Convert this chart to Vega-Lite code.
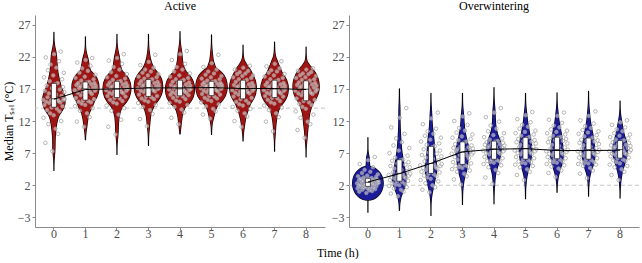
{
"$schema":"https://vega.github.io/schema/vega-lite/v6.json",
"padding":{"left":2,"top":0,"right":0,"bottom":0},
"spacing":5,
"title":{"text":"Time (h)","orient":"bottom","anchor":"middle","dx":17,"offset":9,"fontSize":12,"fontWeight":"normal","font":"Liberation Serif","color":"black"},
"datasets":{
"ref":[{"s":"A","ref":14},{"s":"O","ref":2}],
"fit":[{"s":"A","t":0,"f":15.4},{"s":"A","t":1,"f":16.9},{"s":"A","t":2,"f":17.0},{"s":"A","t":3,"f":17.15},{"s":"A","t":4,"f":17.15},{"s":"A","t":5,"f":17.2},{"s":"A","t":6,"f":17.05},{"s":"A","t":7,"f":17.05},{"s":"A","t":8,"f":16.9},
{"s":"O","t":0,"f":2.5},{"s":"O","t":1,"f":3.8},{"s":"O","t":2,"f":5.4},{"s":"O","t":3,"f":7.2},{"s":"O","t":4,"f":7.6},{"s":"O","t":5,"f":7.7},{"s":"O","t":6,"f":7.4},{"s":"O","t":7,"f":7.4},{"s":"O","t":8,"f":7.45}],
"pts":[
{"s":"A","t":0,"v":7.3},{"s":"A","t":0,"v":8.6},{"s":"A","t":0,"v":10.0},{"s":"A","t":0,"v":10.8},{"s":"A","t":0,"v":11.5},{"s":"A","t":0,"v":12.0},{"s":"A","t":0,"v":12.5},{"s":"A","t":0,"v":12.9},{"s":"A","t":0,"v":13.2},{"s":"A","t":0,"v":13.5},
{"s":"A","t":0,"v":13.7},{"s":"A","t":0,"v":13.9},{"s":"A","t":0,"v":14.1},{"s":"A","t":0,"v":14.3},{"s":"A","t":0,"v":14.5},{"s":"A","t":0,"v":14.6},{"s":"A","t":0,"v":14.8},{"s":"A","t":0,"v":14.9},{"s":"A","t":0,"v":15.0},{"s":"A","t":0,"v":15.1},
{"s":"A","t":0,"v":15.2},{"s":"A","t":0,"v":15.3},{"s":"A","t":0,"v":15.3},{"s":"A","t":0,"v":15.4},{"s":"A","t":0,"v":15.4},{"s":"A","t":0,"v":15.5},{"s":"A","t":0,"v":15.7},{"s":"A","t":0,"v":15.9},{"s":"A","t":0,"v":16.1},{"s":"A","t":0,"v":16.3},
{"s":"A","t":0,"v":16.5},{"s":"A","t":0,"v":16.7},{"s":"A","t":0,"v":16.9},{"s":"A","t":0,"v":17.1},{"s":"A","t":0,"v":17.3},{"s":"A","t":0,"v":17.5},{"s":"A","t":0,"v":17.7},{"s":"A","t":0,"v":17.9},{"s":"A","t":0,"v":18.2},{"s":"A","t":0,"v":18.5},
{"s":"A","t":0,"v":18.8},{"s":"A","t":0,"v":19.1},{"s":"A","t":0,"v":19.5},{"s":"A","t":0,"v":19.9},{"s":"A","t":0,"v":20.3},{"s":"A","t":0,"v":20.8},{"s":"A","t":0,"v":21.3},{"s":"A","t":0,"v":21.9},{"s":"A","t":0,"v":22.4},{"s":"A","t":0,"v":22.8},
{"s":"A","t":1,"v":11.1},{"s":"A","t":1,"v":11.9},{"s":"A","t":1,"v":12.6},{"s":"A","t":1,"v":13.2},{"s":"A","t":1,"v":13.6},{"s":"A","t":1,"v":14.0},{"s":"A","t":1,"v":14.3},{"s":"A","t":1,"v":14.5},{"s":"A","t":1,"v":14.7},{"s":"A","t":1,"v":14.9},
{"s":"A","t":1,"v":15.0},{"s":"A","t":1,"v":15.1},{"s":"A","t":1,"v":15.2},{"s":"A","t":1,"v":15.4},{"s":"A","t":1,"v":15.6},{"s":"A","t":1,"v":15.8},{"s":"A","t":1,"v":16.0},{"s":"A","t":1,"v":16.2},{"s":"A","t":1,"v":16.4},{"s":"A","t":1,"v":16.5},
{"s":"A","t":1,"v":16.6},{"s":"A","t":1,"v":16.7},{"s":"A","t":1,"v":16.8},{"s":"A","t":1,"v":16.9},{"s":"A","t":1,"v":17.0},{"s":"A","t":1,"v":17.0},{"s":"A","t":1,"v":17.1},{"s":"A","t":1,"v":17.2},{"s":"A","t":1,"v":17.3},{"s":"A","t":1,"v":17.4},
{"s":"A","t":1,"v":17.5},{"s":"A","t":1,"v":17.6},{"s":"A","t":1,"v":17.7},{"s":"A","t":1,"v":17.8},{"s":"A","t":1,"v":17.9},{"s":"A","t":1,"v":17.9},{"s":"A","t":1,"v":18.0},{"s":"A","t":1,"v":18.1},{"s":"A","t":1,"v":18.3},{"s":"A","t":1,"v":18.5},
{"s":"A","t":1,"v":18.7},{"s":"A","t":1,"v":18.9},{"s":"A","t":1,"v":19.2},{"s":"A","t":1,"v":19.5},{"s":"A","t":1,"v":19.8},{"s":"A","t":1,"v":20.2},{"s":"A","t":1,"v":20.6},{"s":"A","t":1,"v":21.1},{"s":"A","t":1,"v":21.5},{"s":"A","t":1,"v":21.8},
{"s":"A","t":2,"v":9.9},{"s":"A","t":2,"v":11.1},{"s":"A","t":2,"v":12.2},{"s":"A","t":2,"v":13.0},{"s":"A","t":2,"v":13.6},{"s":"A","t":2,"v":14.0},{"s":"A","t":2,"v":14.4},{"s":"A","t":2,"v":14.7},{"s":"A","t":2,"v":14.9},{"s":"A","t":2,"v":15.1},
{"s":"A","t":2,"v":15.3},{"s":"A","t":2,"v":15.5},{"s":"A","t":2,"v":15.6},{"s":"A","t":2,"v":15.8},{"s":"A","t":2,"v":15.9},{"s":"A","t":2,"v":16.1},{"s":"A","t":2,"v":16.2},{"s":"A","t":2,"v":16.3},{"s":"A","t":2,"v":16.4},{"s":"A","t":2,"v":16.5},
{"s":"A","t":2,"v":16.6},{"s":"A","t":2,"v":16.7},{"s":"A","t":2,"v":16.8},{"s":"A","t":2,"v":16.9},{"s":"A","t":2,"v":17.0},{"s":"A","t":2,"v":17.0},{"s":"A","t":2,"v":17.1},{"s":"A","t":2,"v":17.2},{"s":"A","t":2,"v":17.3},{"s":"A","t":2,"v":17.4},
{"s":"A","t":2,"v":17.5},{"s":"A","t":2,"v":17.6},{"s":"A","t":2,"v":17.7},{"s":"A","t":2,"v":17.8},{"s":"A","t":2,"v":17.9},{"s":"A","t":2,"v":18.0},{"s":"A","t":2,"v":18.1},{"s":"A","t":2,"v":18.2},{"s":"A","t":2,"v":18.4},{"s":"A","t":2,"v":18.6},
{"s":"A","t":2,"v":18.8},{"s":"A","t":2,"v":19.0},{"s":"A","t":2,"v":19.3},{"s":"A","t":2,"v":19.6},{"s":"A","t":2,"v":20.0},{"s":"A","t":2,"v":20.4},{"s":"A","t":2,"v":20.9},{"s":"A","t":2,"v":21.4},{"s":"A","t":2,"v":21.8},{"s":"A","t":2,"v":22.4},
{"s":"A","t":3,"v":11.2},{"s":"A","t":3,"v":12.3},{"s":"A","t":3,"v":13.1},{"s":"A","t":3,"v":13.7},{"s":"A","t":3,"v":14.2},{"s":"A","t":3,"v":14.5},{"s":"A","t":3,"v":14.8},{"s":"A","t":3,"v":15.0},{"s":"A","t":3,"v":15.2},{"s":"A","t":3,"v":15.4},
{"s":"A","t":3,"v":15.5},{"s":"A","t":3,"v":15.7},{"s":"A","t":3,"v":15.8},{"s":"A","t":3,"v":15.9},{"s":"A","t":3,"v":16.1},{"s":"A","t":3,"v":16.3},{"s":"A","t":3,"v":16.5},{"s":"A","t":3,"v":16.6},{"s":"A","t":3,"v":16.7},{"s":"A","t":3,"v":16.8},
{"s":"A","t":3,"v":16.9},{"s":"A","t":3,"v":17.0},{"s":"A","t":3,"v":17.1},{"s":"A","t":3,"v":17.1},{"s":"A","t":3,"v":17.2},{"s":"A","t":3,"v":17.2},{"s":"A","t":3,"v":17.3},{"s":"A","t":3,"v":17.4},{"s":"A","t":3,"v":17.5},{"s":"A","t":3,"v":17.6},
{"s":"A","t":3,"v":17.7},{"s":"A","t":3,"v":17.8},{"s":"A","t":3,"v":17.9},{"s":"A","t":3,"v":18.0},{"s":"A","t":3,"v":18.1},{"s":"A","t":3,"v":18.2},{"s":"A","t":3,"v":18.3},{"s":"A","t":3,"v":18.5},{"s":"A","t":3,"v":18.6},{"s":"A","t":3,"v":18.8},
{"s":"A","t":3,"v":18.9},{"s":"A","t":3,"v":19.1},{"s":"A","t":3,"v":19.3},{"s":"A","t":3,"v":19.5},{"s":"A","t":3,"v":19.7},{"s":"A","t":3,"v":20.0},{"s":"A","t":3,"v":20.3},{"s":"A","t":3,"v":20.7},{"s":"A","t":3,"v":21.2},{"s":"A","t":3,"v":22.3},
{"s":"A","t":4,"v":11.5},{"s":"A","t":4,"v":12.5},{"s":"A","t":4,"v":13.3},{"s":"A","t":4,"v":13.8},{"s":"A","t":4,"v":14.2},{"s":"A","t":4,"v":14.5},{"s":"A","t":4,"v":14.8},{"s":"A","t":4,"v":15.0},{"s":"A","t":4,"v":15.2},{"s":"A","t":4,"v":15.4},
{"s":"A","t":4,"v":15.6},{"s":"A","t":4,"v":15.8},{"s":"A","t":4,"v":15.9},{"s":"A","t":4,"v":16.0},{"s":"A","t":4,"v":16.1},{"s":"A","t":4,"v":16.2},{"s":"A","t":4,"v":16.3},{"s":"A","t":4,"v":16.4},{"s":"A","t":4,"v":16.5},{"s":"A","t":4,"v":16.6},
{"s":"A","t":4,"v":16.7},{"s":"A","t":4,"v":16.8},{"s":"A","t":4,"v":16.9},{"s":"A","t":4,"v":16.9},{"s":"A","t":4,"v":17.0},{"s":"A","t":4,"v":17.0},{"s":"A","t":4,"v":17.1},{"s":"A","t":4,"v":17.2},{"s":"A","t":4,"v":17.3},{"s":"A","t":4,"v":17.4},
{"s":"A","t":4,"v":17.5},{"s":"A","t":4,"v":17.6},{"s":"A","t":4,"v":17.7},{"s":"A","t":4,"v":17.9},{"s":"A","t":4,"v":18.0},{"s":"A","t":4,"v":18.1},{"s":"A","t":4,"v":18.2},{"s":"A","t":4,"v":18.4},{"s":"A","t":4,"v":18.5},{"s":"A","t":4,"v":18.7},
{"s":"A","t":4,"v":18.9},{"s":"A","t":4,"v":19.1},{"s":"A","t":4,"v":19.4},{"s":"A","t":4,"v":19.7},{"s":"A","t":4,"v":20.0},{"s":"A","t":4,"v":20.4},{"s":"A","t":4,"v":20.9},{"s":"A","t":4,"v":21.5},{"s":"A","t":4,"v":22.4},{"s":"A","t":4,"v":22.9},
{"s":"A","t":5,"v":12.4},{"s":"A","t":5,"v":13.0},{"s":"A","t":5,"v":13.5},{"s":"A","t":5,"v":13.9},{"s":"A","t":5,"v":14.3},{"s":"A","t":5,"v":14.6},{"s":"A","t":5,"v":14.9},{"s":"A","t":5,"v":15.1},{"s":"A","t":5,"v":15.3},{"s":"A","t":5,"v":15.5},
{"s":"A","t":5,"v":15.6},{"s":"A","t":5,"v":15.8},{"s":"A","t":5,"v":15.9},{"s":"A","t":5,"v":16.1},{"s":"A","t":5,"v":16.2},{"s":"A","t":5,"v":16.4},{"s":"A","t":5,"v":16.5},{"s":"A","t":5,"v":16.6},{"s":"A","t":5,"v":16.7},{"s":"A","t":5,"v":16.8},
{"s":"A","t":5,"v":16.9},{"s":"A","t":5,"v":17.0},{"s":"A","t":5,"v":17.1},{"s":"A","t":5,"v":17.1},{"s":"A","t":5,"v":17.2},{"s":"A","t":5,"v":17.2},{"s":"A","t":5,"v":17.3},{"s":"A","t":5,"v":17.4},{"s":"A","t":5,"v":17.5},{"s":"A","t":5,"v":17.5},
{"s":"A","t":5,"v":17.6},{"s":"A","t":5,"v":17.7},{"s":"A","t":5,"v":17.8},{"s":"A","t":5,"v":17.8},{"s":"A","t":5,"v":17.9},{"s":"A","t":5,"v":18.0},{"s":"A","t":5,"v":18.1},{"s":"A","t":5,"v":18.2},{"s":"A","t":5,"v":18.3},{"s":"A","t":5,"v":18.5},
{"s":"A","t":5,"v":18.6},{"s":"A","t":5,"v":18.8},{"s":"A","t":5,"v":19.0},{"s":"A","t":5,"v":19.2},{"s":"A","t":5,"v":19.4},{"s":"A","t":5,"v":19.7},{"s":"A","t":5,"v":20.0},{"s":"A","t":5,"v":20.4},{"s":"A","t":5,"v":21.0},{"s":"A","t":5,"v":22.3},
{"s":"A","t":6,"v":11.1},{"s":"A","t":6,"v":12.0},{"s":"A","t":6,"v":12.7},{"s":"A","t":6,"v":13.2},{"s":"A","t":6,"v":13.6},{"s":"A","t":6,"v":13.9},{"s":"A","t":6,"v":14.2},{"s":"A","t":6,"v":14.4},{"s":"A","t":6,"v":14.6},{"s":"A","t":6,"v":14.8},
{"s":"A","t":6,"v":15.0},{"s":"A","t":6,"v":15.2},{"s":"A","t":6,"v":15.4},{"s":"A","t":6,"v":15.6},{"s":"A","t":6,"v":15.8},{"s":"A","t":6,"v":16.0},{"s":"A","t":6,"v":16.1},{"s":"A","t":6,"v":16.3},{"s":"A","t":6,"v":16.4},{"s":"A","t":6,"v":16.5},
{"s":"A","t":6,"v":16.6},{"s":"A","t":6,"v":16.7},{"s":"A","t":6,"v":16.8},{"s":"A","t":6,"v":16.9},{"s":"A","t":6,"v":17.0},{"s":"A","t":6,"v":17.0},{"s":"A","t":6,"v":17.1},{"s":"A","t":6,"v":17.2},{"s":"A","t":6,"v":17.3},{"s":"A","t":6,"v":17.4},
{"s":"A","t":6,"v":17.5},{"s":"A","t":6,"v":17.6},{"s":"A","t":6,"v":17.7},{"s":"A","t":6,"v":17.8},{"s":"A","t":6,"v":17.9},{"s":"A","t":6,"v":18.1},{"s":"A","t":6,"v":18.2},{"s":"A","t":6,"v":18.4},{"s":"A","t":6,"v":18.5},{"s":"A","t":6,"v":18.7},
{"s":"A","t":6,"v":18.8},{"s":"A","t":6,"v":19.0},{"s":"A","t":6,"v":19.1},{"s":"A","t":6,"v":19.3},{"s":"A","t":6,"v":19.4},{"s":"A","t":6,"v":19.6},{"s":"A","t":6,"v":19.8},{"s":"A","t":6,"v":20.0},{"s":"A","t":6,"v":20.3},{"s":"A","t":6,"v":20.6},
{"s":"A","t":7,"v":10.4},{"s":"A","t":7,"v":11.9},{"s":"A","t":7,"v":12.6},{"s":"A","t":7,"v":13.2},{"s":"A","t":7,"v":13.7},{"s":"A","t":7,"v":14.1},{"s":"A","t":7,"v":14.4},{"s":"A","t":7,"v":14.7},{"s":"A","t":7,"v":14.9},{"s":"A","t":7,"v":15.1},
{"s":"A","t":7,"v":15.3},{"s":"A","t":7,"v":15.5},{"s":"A","t":7,"v":15.6},{"s":"A","t":7,"v":15.8},{"s":"A","t":7,"v":15.9},{"s":"A","t":7,"v":16.1},{"s":"A","t":7,"v":16.2},{"s":"A","t":7,"v":16.3},{"s":"A","t":7,"v":16.4},{"s":"A","t":7,"v":16.5},
{"s":"A","t":7,"v":16.6},{"s":"A","t":7,"v":16.7},{"s":"A","t":7,"v":16.8},{"s":"A","t":7,"v":16.9},{"s":"A","t":7,"v":17.0},{"s":"A","t":7,"v":17.0},{"s":"A","t":7,"v":17.1},{"s":"A","t":7,"v":17.2},{"s":"A","t":7,"v":17.3},{"s":"A","t":7,"v":17.4},
{"s":"A","t":7,"v":17.5},{"s":"A","t":7,"v":17.6},{"s":"A","t":7,"v":17.7},{"s":"A","t":7,"v":17.8},{"s":"A","t":7,"v":17.9},{"s":"A","t":7,"v":18.0},{"s":"A","t":7,"v":18.2},{"s":"A","t":7,"v":18.4},{"s":"A","t":7,"v":18.5},{"s":"A","t":7,"v":18.7},
{"s":"A","t":7,"v":18.9},{"s":"A","t":7,"v":19.1},{"s":"A","t":7,"v":19.3},{"s":"A","t":7,"v":19.5},{"s":"A","t":7,"v":19.7},{"s":"A","t":7,"v":19.9},{"s":"A","t":7,"v":20.2},{"s":"A","t":7,"v":20.5},{"s":"A","t":7,"v":20.9},{"s":"A","t":7,"v":21.3},
{"s":"A","t":8,"v":9.4},{"s":"A","t":8,"v":10.6},{"s":"A","t":8,"v":11.5},{"s":"A","t":8,"v":11.9},{"s":"A","t":8,"v":12.5},{"s":"A","t":8,"v":13.0},{"s":"A","t":8,"v":13.5},{"s":"A","t":8,"v":13.9},{"s":"A","t":8,"v":14.2},{"s":"A","t":8,"v":14.5},
{"s":"A","t":8,"v":14.7},{"s":"A","t":8,"v":14.9},{"s":"A","t":8,"v":15.1},{"s":"A","t":8,"v":15.3},{"s":"A","t":8,"v":15.5},{"s":"A","t":8,"v":15.8},{"s":"A","t":8,"v":16.0},{"s":"A","t":8,"v":16.2},{"s":"A","t":8,"v":16.3},{"s":"A","t":8,"v":16.4},
{"s":"A","t":8,"v":16.5},{"s":"A","t":8,"v":16.6},{"s":"A","t":8,"v":16.7},{"s":"A","t":8,"v":16.8},{"s":"A","t":8,"v":16.9},{"s":"A","t":8,"v":17.0},{"s":"A","t":8,"v":17.1},{"s":"A","t":8,"v":17.2},{"s":"A","t":8,"v":17.3},{"s":"A","t":8,"v":17.4},
{"s":"A","t":8,"v":17.5},{"s":"A","t":8,"v":17.6},{"s":"A","t":8,"v":17.7},{"s":"A","t":8,"v":17.8},{"s":"A","t":8,"v":17.9},{"s":"A","t":8,"v":18.0},{"s":"A","t":8,"v":18.1},{"s":"A","t":8,"v":18.3},{"s":"A","t":8,"v":18.4},{"s":"A","t":8,"v":18.5},
{"s":"A","t":8,"v":18.7},{"s":"A","t":8,"v":18.8},{"s":"A","t":8,"v":19.0},{"s":"A","t":8,"v":19.1},{"s":"A","t":8,"v":19.3},{"s":"A","t":8,"v":19.4},{"s":"A","t":8,"v":19.6},{"s":"A","t":8,"v":19.8},{"s":"A","t":8,"v":20.0},{"s":"A","t":8,"v":20.2},
{"s":"O","t":0,"v":0.8},{"s":"O","t":0,"v":1.0},{"s":"O","t":0,"v":1.1},{"s":"O","t":0,"v":1.2},{"s":"O","t":0,"v":1.3},{"s":"O","t":0,"v":1.4},{"s":"O","t":0,"v":1.5},{"s":"O","t":0,"v":1.5},{"s":"O","t":0,"v":1.6},{"s":"O","t":0,"v":1.6},
{"s":"O","t":0,"v":1.7},{"s":"O","t":0,"v":1.7},{"s":"O","t":0,"v":1.8},{"s":"O","t":0,"v":1.9},{"s":"O","t":0,"v":1.9},{"s":"O","t":0,"v":2.0},{"s":"O","t":0,"v":2.0},{"s":"O","t":0,"v":2.1},{"s":"O","t":0,"v":2.1},{"s":"O","t":0,"v":2.2},
{"s":"O","t":0,"v":2.2},{"s":"O","t":0,"v":2.3},{"s":"O","t":0,"v":2.3},{"s":"O","t":0,"v":2.4},{"s":"O","t":0,"v":2.4},{"s":"O","t":0,"v":2.5},{"s":"O","t":0,"v":2.5},{"s":"O","t":0,"v":2.6},{"s":"O","t":0,"v":2.6},{"s":"O","t":0,"v":2.7},
{"s":"O","t":0,"v":2.7},{"s":"O","t":0,"v":2.8},{"s":"O","t":0,"v":2.8},{"s":"O","t":0,"v":2.9},{"s":"O","t":0,"v":2.9},{"s":"O","t":0,"v":3.0},{"s":"O","t":0,"v":3.0},{"s":"O","t":0,"v":3.1},{"s":"O","t":0,"v":3.2},{"s":"O","t":0,"v":3.3},
{"s":"O","t":0,"v":3.4},{"s":"O","t":0,"v":3.5},{"s":"O","t":0,"v":3.7},{"s":"O","t":0,"v":3.9},{"s":"O","t":0,"v":4.1},{"s":"O","t":0,"v":4.4},{"s":"O","t":0,"v":4.8},{"s":"O","t":0,"v":5.3},{"s":"O","t":0,"v":5.9},{"s":"O","t":0,"v":6.4},
{"s":"O","t":1,"v":0.3},{"s":"O","t":1,"v":0.7},{"s":"O","t":1,"v":1.0},{"s":"O","t":1,"v":1.3},{"s":"O","t":1,"v":1.5},{"s":"O","t":1,"v":1.7},{"s":"O","t":1,"v":1.9},{"s":"O","t":1,"v":2.0},{"s":"O","t":1,"v":2.1},{"s":"O","t":1,"v":2.2},
{"s":"O","t":1,"v":2.3},{"s":"O","t":1,"v":2.5},{"s":"O","t":1,"v":2.6},{"s":"O","t":1,"v":2.7},{"s":"O","t":1,"v":2.8},{"s":"O","t":1,"v":2.9},{"s":"O","t":1,"v":3.0},{"s":"O","t":1,"v":3.1},{"s":"O","t":1,"v":3.2},{"s":"O","t":1,"v":3.3},
{"s":"O","t":1,"v":3.4},{"s":"O","t":1,"v":3.5},{"s":"O","t":1,"v":3.6},{"s":"O","t":1,"v":3.7},{"s":"O","t":1,"v":3.8},{"s":"O","t":1,"v":3.9},{"s":"O","t":1,"v":4.0},{"s":"O","t":1,"v":4.2},{"s":"O","t":1,"v":4.4},{"s":"O","t":1,"v":4.6},
{"s":"O","t":1,"v":4.8},{"s":"O","t":1,"v":5.0},{"s":"O","t":1,"v":5.2},{"s":"O","t":1,"v":5.4},{"s":"O","t":1,"v":5.6},{"s":"O","t":1,"v":5.8},{"s":"O","t":1,"v":5.9},{"s":"O","t":1,"v":6.0},{"s":"O","t":1,"v":6.3},{"s":"O","t":1,"v":6.6},
{"s":"O","t":1,"v":7.0},{"s":"O","t":1,"v":7.4},{"s":"O","t":1,"v":7.8},{"s":"O","t":1,"v":8.2},{"s":"O","t":1,"v":8.7},{"s":"O","t":1,"v":9.3},{"s":"O","t":1,"v":10.0},{"s":"O","t":1,"v":11.0},{"s":"O","t":1,"v":12.5},{"s":"O","t":1,"v":14.0},
{"s":"O","t":2,"v":0.9},{"s":"O","t":2,"v":1.3},{"s":"O","t":2,"v":1.7},{"s":"O","t":2,"v":2.0},{"s":"O","t":2,"v":2.3},{"s":"O","t":2,"v":2.6},{"s":"O","t":2,"v":2.8},{"s":"O","t":2,"v":3.0},{"s":"O","t":2,"v":3.2},{"s":"O","t":2,"v":3.4},
{"s":"O","t":2,"v":3.5},{"s":"O","t":2,"v":3.7},{"s":"O","t":2,"v":3.8},{"s":"O","t":2,"v":4.0},{"s":"O","t":2,"v":4.1},{"s":"O","t":2,"v":4.3},{"s":"O","t":2,"v":4.4},{"s":"O","t":2,"v":4.6},{"s":"O","t":2,"v":4.7},{"s":"O","t":2,"v":4.8},
{"s":"O","t":2,"v":4.9},{"s":"O","t":2,"v":5.0},{"s":"O","t":2,"v":5.1},{"s":"O","t":2,"v":5.2},{"s":"O","t":2,"v":5.3},{"s":"O","t":2,"v":5.5},{"s":"O","t":2,"v":5.7},{"s":"O","t":2,"v":5.9},{"s":"O","t":2,"v":6.1},{"s":"O","t":2,"v":6.3},
{"s":"O","t":2,"v":6.5},{"s":"O","t":2,"v":6.7},{"s":"O","t":2,"v":6.9},{"s":"O","t":2,"v":7.1},{"s":"O","t":2,"v":7.4},{"s":"O","t":2,"v":7.6},{"s":"O","t":2,"v":7.9},{"s":"O","t":2,"v":8.1},{"s":"O","t":2,"v":8.3},{"s":"O","t":2,"v":8.5},
{"s":"O","t":2,"v":8.8},{"s":"O","t":2,"v":9.1},{"s":"O","t":2,"v":9.4},{"s":"O","t":2,"v":9.7},{"s":"O","t":2,"v":10.0},{"s":"O","t":2,"v":10.4},{"s":"O","t":2,"v":10.8},{"s":"O","t":2,"v":11.5},{"s":"O","t":2,"v":12.4},{"s":"O","t":2,"v":13.3},
{"s":"O","t":3,"v":2.1},{"s":"O","t":3,"v":2.9},{"s":"O","t":3,"v":3.4},{"s":"O","t":3,"v":3.8},{"s":"O","t":3,"v":4.1},{"s":"O","t":3,"v":4.3},{"s":"O","t":3,"v":4.5},{"s":"O","t":3,"v":4.7},{"s":"O","t":3,"v":4.8},{"s":"O","t":3,"v":4.9},
{"s":"O","t":3,"v":5.0},{"s":"O","t":3,"v":5.1},{"s":"O","t":3,"v":5.2},{"s":"O","t":3,"v":5.4},{"s":"O","t":3,"v":5.6},{"s":"O","t":3,"v":5.8},{"s":"O","t":3,"v":6.0},{"s":"O","t":3,"v":6.2},{"s":"O","t":3,"v":6.4},{"s":"O","t":3,"v":6.6},
{"s":"O","t":3,"v":6.7},{"s":"O","t":3,"v":6.8},{"s":"O","t":3,"v":6.9},{"s":"O","t":3,"v":7.0},{"s":"O","t":3,"v":7.1},{"s":"O","t":3,"v":7.2},{"s":"O","t":3,"v":7.3},{"s":"O","t":3,"v":7.4},{"s":"O","t":3,"v":7.5},{"s":"O","t":3,"v":7.6},
{"s":"O","t":3,"v":7.7},{"s":"O","t":3,"v":7.8},{"s":"O","t":3,"v":7.9},{"s":"O","t":3,"v":8.0},{"s":"O","t":3,"v":8.2},{"s":"O","t":3,"v":8.4},{"s":"O","t":3,"v":8.6},{"s":"O","t":3,"v":8.8},{"s":"O","t":3,"v":9.0},{"s":"O","t":3,"v":9.2},
{"s":"O","t":3,"v":9.4},{"s":"O","t":3,"v":9.6},{"s":"O","t":3,"v":9.9},{"s":"O","t":3,"v":10.2},{"s":"O","t":3,"v":10.5},{"s":"O","t":3,"v":10.9},{"s":"O","t":3,"v":11.4},{"s":"O","t":3,"v":12.0},{"s":"O","t":3,"v":12.7},{"s":"O","t":3,"v":13.2},
{"s":"O","t":4,"v":2.2},{"s":"O","t":4,"v":3.2},{"s":"O","t":4,"v":3.9},{"s":"O","t":4,"v":4.4},{"s":"O","t":4,"v":4.8},{"s":"O","t":4,"v":5.1},{"s":"O","t":4,"v":5.3},{"s":"O","t":4,"v":5.5},{"s":"O","t":4,"v":5.6},{"s":"O","t":4,"v":5.7},
{"s":"O","t":4,"v":5.8},{"s":"O","t":4,"v":5.9},{"s":"O","t":4,"v":6.0},{"s":"O","t":4,"v":6.2},{"s":"O","t":4,"v":6.4},{"s":"O","t":4,"v":6.6},{"s":"O","t":4,"v":6.8},{"s":"O","t":4,"v":6.9},{"s":"O","t":4,"v":7.0},{"s":"O","t":4,"v":7.1},
{"s":"O","t":4,"v":7.2},{"s":"O","t":4,"v":7.3},{"s":"O","t":4,"v":7.4},{"s":"O","t":4,"v":7.5},{"s":"O","t":4,"v":7.6},{"s":"O","t":4,"v":7.7},{"s":"O","t":4,"v":7.8},{"s":"O","t":4,"v":7.9},{"s":"O","t":4,"v":8.0},{"s":"O","t":4,"v":8.1},
{"s":"O","t":4,"v":8.2},{"s":"O","t":4,"v":8.3},{"s":"O","t":4,"v":8.4},{"s":"O","t":4,"v":8.5},{"s":"O","t":4,"v":8.6},{"s":"O","t":4,"v":8.7},{"s":"O","t":4,"v":8.8},{"s":"O","t":4,"v":8.9},{"s":"O","t":4,"v":9.1},{"s":"O","t":4,"v":9.3},
{"s":"O","t":4,"v":9.5},{"s":"O","t":4,"v":9.8},{"s":"O","t":4,"v":10.1},{"s":"O","t":4,"v":10.4},{"s":"O","t":4,"v":10.8},{"s":"O","t":4,"v":11.3},{"s":"O","t":4,"v":11.9},{"s":"O","t":4,"v":12.6},{"s":"O","t":4,"v":13.3},{"s":"O","t":4,"v":14.0},
{"s":"O","t":5,"v":2.8},{"s":"O","t":5,"v":3.6},{"s":"O","t":5,"v":4.1},{"s":"O","t":5,"v":4.5},{"s":"O","t":5,"v":4.8},{"s":"O","t":5,"v":5.0},{"s":"O","t":5,"v":5.2},{"s":"O","t":5,"v":5.4},{"s":"O","t":5,"v":5.5},{"s":"O","t":5,"v":5.6},
{"s":"O","t":5,"v":5.7},{"s":"O","t":5,"v":5.9},{"s":"O","t":5,"v":6.0},{"s":"O","t":5,"v":6.2},{"s":"O","t":5,"v":6.4},{"s":"O","t":5,"v":6.6},{"s":"O","t":5,"v":6.8},{"s":"O","t":5,"v":6.9},{"s":"O","t":5,"v":7.0},{"s":"O","t":5,"v":7.1},
{"s":"O","t":5,"v":7.2},{"s":"O","t":5,"v":7.3},{"s":"O","t":5,"v":7.4},{"s":"O","t":5,"v":7.5},{"s":"O","t":5,"v":7.6},{"s":"O","t":5,"v":7.8},{"s":"O","t":5,"v":7.9},{"s":"O","t":5,"v":8.0},{"s":"O","t":5,"v":8.1},{"s":"O","t":5,"v":8.3},
{"s":"O","t":5,"v":8.5},{"s":"O","t":5,"v":8.7},{"s":"O","t":5,"v":8.8},{"s":"O","t":5,"v":8.9},{"s":"O","t":5,"v":9.0},{"s":"O","t":5,"v":9.2},{"s":"O","t":5,"v":9.3},{"s":"O","t":5,"v":9.5},{"s":"O","t":5,"v":9.7},{"s":"O","t":5,"v":9.9},
{"s":"O","t":5,"v":10.1},{"s":"O","t":5,"v":10.3},{"s":"O","t":5,"v":10.5},{"s":"O","t":5,"v":10.8},{"s":"O","t":5,"v":11.1},{"s":"O","t":5,"v":11.4},{"s":"O","t":5,"v":11.8},{"s":"O","t":5,"v":12.3},{"s":"O","t":5,"v":12.9},{"s":"O","t":5,"v":13.4},
{"s":"O","t":6,"v":3.3},{"s":"O","t":6,"v":3.9},{"s":"O","t":6,"v":4.3},{"s":"O","t":6,"v":4.6},{"s":"O","t":6,"v":4.9},{"s":"O","t":6,"v":5.1},{"s":"O","t":6,"v":5.3},{"s":"O","t":6,"v":5.5},{"s":"O","t":6,"v":5.6},{"s":"O","t":6,"v":5.7},
{"s":"O","t":6,"v":5.8},{"s":"O","t":6,"v":6.0},{"s":"O","t":6,"v":6.1},{"s":"O","t":6,"v":6.2},{"s":"O","t":6,"v":6.4},{"s":"O","t":6,"v":6.5},{"s":"O","t":6,"v":6.7},{"s":"O","t":6,"v":6.8},{"s":"O","t":6,"v":6.9},{"s":"O","t":6,"v":7.0},
{"s":"O","t":6,"v":7.1},{"s":"O","t":6,"v":7.2},{"s":"O","t":6,"v":7.3},{"s":"O","t":6,"v":7.4},{"s":"O","t":6,"v":7.5},{"s":"O","t":6,"v":7.6},{"s":"O","t":6,"v":7.7},{"s":"O","t":6,"v":7.9},{"s":"O","t":6,"v":8.1},{"s":"O","t":6,"v":8.3},
{"s":"O","t":6,"v":8.5},{"s":"O","t":6,"v":8.7},{"s":"O","t":6,"v":8.9},{"s":"O","t":6,"v":9.0},{"s":"O","t":6,"v":9.2},{"s":"O","t":6,"v":9.3},{"s":"O","t":6,"v":9.4},{"s":"O","t":6,"v":9.5},{"s":"O","t":6,"v":9.7},{"s":"O","t":6,"v":9.9},
{"s":"O","t":6,"v":10.1},{"s":"O","t":6,"v":10.3},{"s":"O","t":6,"v":10.5},{"s":"O","t":6,"v":10.7},{"s":"O","t":6,"v":11.0},{"s":"O","t":6,"v":11.3},{"s":"O","t":6,"v":11.7},{"s":"O","t":6,"v":12.2},{"s":"O","t":6,"v":12.8},{"s":"O","t":6,"v":13.3},
{"s":"O","t":7,"v":3.1},{"s":"O","t":7,"v":3.8},{"s":"O","t":7,"v":4.3},{"s":"O","t":7,"v":4.7},{"s":"O","t":7,"v":5.0},{"s":"O","t":7,"v":5.2},{"s":"O","t":7,"v":5.3},{"s":"O","t":7,"v":5.4},{"s":"O","t":7,"v":5.5},{"s":"O","t":7,"v":5.6},
{"s":"O","t":7,"v":5.7},{"s":"O","t":7,"v":5.9},{"s":"O","t":7,"v":6.0},{"s":"O","t":7,"v":6.2},{"s":"O","t":7,"v":6.3},{"s":"O","t":7,"v":6.5},{"s":"O","t":7,"v":6.6},{"s":"O","t":7,"v":6.8},{"s":"O","t":7,"v":6.9},{"s":"O","t":7,"v":7.0},
{"s":"O","t":7,"v":7.1},{"s":"O","t":7,"v":7.2},{"s":"O","t":7,"v":7.3},{"s":"O","t":7,"v":7.4},{"s":"O","t":7,"v":7.5},{"s":"O","t":7,"v":7.6},{"s":"O","t":7,"v":7.7},{"s":"O","t":7,"v":7.8},{"s":"O","t":7,"v":8.0},{"s":"O","t":7,"v":8.2},
{"s":"O","t":7,"v":8.4},{"s":"O","t":7,"v":8.6},{"s":"O","t":7,"v":8.8},{"s":"O","t":7,"v":8.9},{"s":"O","t":7,"v":9.0},{"s":"O","t":7,"v":9.1},{"s":"O","t":7,"v":9.2},{"s":"O","t":7,"v":9.4},{"s":"O","t":7,"v":9.6},{"s":"O","t":7,"v":9.8},
{"s":"O","t":7,"v":10.0},{"s":"O","t":7,"v":10.2},{"s":"O","t":7,"v":10.4},{"s":"O","t":7,"v":10.6},{"s":"O","t":7,"v":10.9},{"s":"O","t":7,"v":11.2},{"s":"O","t":7,"v":11.6},{"s":"O","t":7,"v":12.1},{"s":"O","t":7,"v":12.8},{"s":"O","t":7,"v":13.5},
{"s":"O","t":8,"v":2.8},{"s":"O","t":8,"v":3.6},{"s":"O","t":8,"v":4.1},{"s":"O","t":8,"v":4.5},{"s":"O","t":8,"v":4.8},{"s":"O","t":8,"v":5.0},{"s":"O","t":8,"v":5.2},{"s":"O","t":8,"v":5.4},{"s":"O","t":8,"v":5.6},{"s":"O","t":8,"v":5.8},
{"s":"O","t":8,"v":5.9},{"s":"O","t":8,"v":6.0},{"s":"O","t":8,"v":6.2},{"s":"O","t":8,"v":6.3},{"s":"O","t":8,"v":6.5},{"s":"O","t":8,"v":6.6},{"s":"O","t":8,"v":6.7},{"s":"O","t":8,"v":6.8},{"s":"O","t":8,"v":6.9},{"s":"O","t":8,"v":7.0},
{"s":"O","t":8,"v":7.1},{"s":"O","t":8,"v":7.2},{"s":"O","t":8,"v":7.3},{"s":"O","t":8,"v":7.4},{"s":"O","t":8,"v":7.5},{"s":"O","t":8,"v":7.6},{"s":"O","t":8,"v":7.7},{"s":"O","t":8,"v":7.8},{"s":"O","t":8,"v":7.9},{"s":"O","t":8,"v":8.0},
{"s":"O","t":8,"v":8.1},{"s":"O","t":8,"v":8.2},{"s":"O","t":8,"v":8.3},{"s":"O","t":8,"v":8.4},{"s":"O","t":8,"v":8.6},{"s":"O","t":8,"v":8.7},{"s":"O","t":8,"v":8.8},{"s":"O","t":8,"v":9.0},{"s":"O","t":8,"v":9.1},{"s":"O","t":8,"v":9.3},
{"s":"O","t":8,"v":9.5},{"s":"O","t":8,"v":9.7},{"s":"O","t":8,"v":9.9},{"s":"O","t":8,"v":10.1},{"s":"O","t":8,"v":10.4},{"s":"O","t":8,"v":10.7},{"s":"O","t":8,"v":11.0},{"s":"O","t":8,"v":11.4},{"s":"O","t":8,"v":11.8},{"s":"O","t":8,"v":12.1}
]},
"hconcat":[
{
"title":{"text":"Active","offset":2},
"width":290,"height":212,
"resolve":{"scale":{"size":"independent"}},
"layer":[
{"data":{"name":"ref"},"transform":[{"filter":"datum.s=='A'"}],"mark":{"type":"rule","color":"#c4c4c4","strokeDash":[4,3],"strokeWidth":1},"encoding":{"y":{"field":"ref","type":"quantitative","scale":{"domain":[-4.5,28.5],"nice":false,"zero":false}}}},
{"data":{"name":"pts"},"transform":[{"filter":"datum.s=='A'&&datum.t==0"},{"density":"v","groupby":["t"],"bandwidth":0.9,"extent":[4.3,25.8],"steps":120}],"resolve":{"scale":{"size":"independent"}},"layer":[
{"mark":{"type":"trail","color":"black"},"encoding":{"x":{"field":"t","type":"ordinal","scale":{"type":"band","domain":[0,1,2,3,4,5,6,7,8],"paddingInner":0,"paddingOuter":0.1}},"y":{"field":"value","type":"quantitative"},"order":{"field":"value","type":"quantitative"},"size":{"field":"density","type":"quantitative","scale":{"domain":[0,0.19],"range":[1.2,29.6]},"legend":null}}},
{"mark":{"type":"trail","color":"#a01414"},"encoding":{"x":{"field":"t","type":"ordinal","scale":{"type":"band","domain":[0,1,2,3,4,5,6,7,8],"paddingInner":0,"paddingOuter":0.1}},"y":{"field":"value","type":"quantitative"},"order":{"field":"value","type":"quantitative"},"size":{"field":"density","type":"quantitative","scale":{"domain":[0,0.19],"range":[0,28.4]},"legend":null}}}]},
{"data":{"name":"pts"},"transform":[{"filter":"datum.s=='A'&&datum.t==1"},{"density":"v","groupby":["t"],"bandwidth":0.9,"extent":[9.1,25.1],"steps":120}],"resolve":{"scale":{"size":"independent"}},"layer":[
{"mark":{"type":"trail","color":"black"},"encoding":{"x":{"field":"t","type":"ordinal","scale":{"type":"band","domain":[0,1,2,3,4,5,6,7,8],"paddingInner":0,"paddingOuter":0.1}},"y":{"field":"value","type":"quantitative"},"order":{"field":"value","type":"quantitative"},"size":{"field":"density","type":"quantitative","scale":{"domain":[0,0.19],"range":[1.2,29.6]},"legend":null}}},
{"mark":{"type":"trail","color":"#a01414"},"encoding":{"x":{"field":"t","type":"ordinal","scale":{"type":"band","domain":[0,1,2,3,4,5,6,7,8],"paddingInner":0,"paddingOuter":0.1}},"y":{"field":"value","type":"quantitative"},"order":{"field":"value","type":"quantitative"},"size":{"field":"density","type":"quantitative","scale":{"domain":[0,0.19],"range":[0,28.4]},"legend":null}}}]},
{"data":{"name":"pts"},"transform":[{"filter":"datum.s=='A'&&datum.t==2"},{"density":"v","groupby":["t"],"bandwidth":0.9,"extent":[6.8,25.5],"steps":120}],"resolve":{"scale":{"size":"independent"}},"layer":[
{"mark":{"type":"trail","color":"black"},"encoding":{"x":{"field":"t","type":"ordinal","scale":{"type":"band","domain":[0,1,2,3,4,5,6,7,8],"paddingInner":0,"paddingOuter":0.1}},"y":{"field":"value","type":"quantitative"},"order":{"field":"value","type":"quantitative"},"size":{"field":"density","type":"quantitative","scale":{"domain":[0,0.19],"range":[1.2,29.6]},"legend":null}}},
{"mark":{"type":"trail","color":"#a01414"},"encoding":{"x":{"field":"t","type":"ordinal","scale":{"type":"band","domain":[0,1,2,3,4,5,6,7,8],"paddingInner":0,"paddingOuter":0.1}},"y":{"field":"value","type":"quantitative"},"order":{"field":"value","type":"quantitative"},"size":{"field":"density","type":"quantitative","scale":{"domain":[0,0.19],"range":[0,28.4]},"legend":null}}}]},
{"data":{"name":"pts"},"transform":[{"filter":"datum.s=='A'&&datum.t==3"},{"density":"v","groupby":["t"],"bandwidth":0.9,"extent":[8.2,25.5],"steps":120}],"resolve":{"scale":{"size":"independent"}},"layer":[
{"mark":{"type":"trail","color":"black"},"encoding":{"x":{"field":"t","type":"ordinal","scale":{"type":"band","domain":[0,1,2,3,4,5,6,7,8],"paddingInner":0,"paddingOuter":0.1}},"y":{"field":"value","type":"quantitative"},"order":{"field":"value","type":"quantitative"},"size":{"field":"density","type":"quantitative","scale":{"domain":[0,0.19],"range":[1.2,29.6]},"legend":null}}},
{"mark":{"type":"trail","color":"#a01414"},"encoding":{"x":{"field":"t","type":"ordinal","scale":{"type":"band","domain":[0,1,2,3,4,5,6,7,8],"paddingInner":0,"paddingOuter":0.1}},"y":{"field":"value","type":"quantitative"},"order":{"field":"value","type":"quantitative"},"size":{"field":"density","type":"quantitative","scale":{"domain":[0,0.19],"range":[0,28.4]},"legend":null}}}]},
{"data":{"name":"pts"},"transform":[{"filter":"datum.s=='A'&&datum.t==4"},{"density":"v","groupby":["t"],"bandwidth":0.9,"extent":[10.0,25.9],"steps":120}],"resolve":{"scale":{"size":"independent"}},"layer":[
{"mark":{"type":"trail","color":"black"},"encoding":{"x":{"field":"t","type":"ordinal","scale":{"type":"band","domain":[0,1,2,3,4,5,6,7,8],"paddingInner":0,"paddingOuter":0.1}},"y":{"field":"value","type":"quantitative"},"order":{"field":"value","type":"quantitative"},"size":{"field":"density","type":"quantitative","scale":{"domain":[0,0.19],"range":[1.2,29.6]},"legend":null}}},
{"mark":{"type":"trail","color":"#a01414"},"encoding":{"x":{"field":"t","type":"ordinal","scale":{"type":"band","domain":[0,1,2,3,4,5,6,7,8],"paddingInner":0,"paddingOuter":0.1}},"y":{"field":"value","type":"quantitative"},"order":{"field":"value","type":"quantitative"},"size":{"field":"density","type":"quantitative","scale":{"domain":[0,0.19],"range":[0,28.4]},"legend":null}}}]},
{"data":{"name":"pts"},"transform":[{"filter":"datum.s=='A'&&datum.t==5"},{"density":"v","groupby":["t"],"bandwidth":0.9,"extent":[9.9,25.4],"steps":120}],"resolve":{"scale":{"size":"independent"}},"layer":[
{"mark":{"type":"trail","color":"black"},"encoding":{"x":{"field":"t","type":"ordinal","scale":{"type":"band","domain":[0,1,2,3,4,5,6,7,8],"paddingInner":0,"paddingOuter":0.1}},"y":{"field":"value","type":"quantitative"},"order":{"field":"value","type":"quantitative"},"size":{"field":"density","type":"quantitative","scale":{"domain":[0,0.19],"range":[1.2,29.6]},"legend":null}}},
{"mark":{"type":"trail","color":"#a01414"},"encoding":{"x":{"field":"t","type":"ordinal","scale":{"type":"band","domain":[0,1,2,3,4,5,6,7,8],"paddingInner":0,"paddingOuter":0.1}},"y":{"field":"value","type":"quantitative"},"order":{"field":"value","type":"quantitative"},"size":{"field":"density","type":"quantitative","scale":{"domain":[0,0.19],"range":[0,28.4]},"legend":null}}}]},
{"data":{"name":"pts"},"transform":[{"filter":"datum.s=='A'&&datum.t==6"},{"density":"v","groupby":["t"],"bandwidth":0.9,"extent":[8.9,23.8],"steps":120}],"resolve":{"scale":{"size":"independent"}},"layer":[
{"mark":{"type":"trail","color":"black"},"encoding":{"x":{"field":"t","type":"ordinal","scale":{"type":"band","domain":[0,1,2,3,4,5,6,7,8],"paddingInner":0,"paddingOuter":0.1}},"y":{"field":"value","type":"quantitative"},"order":{"field":"value","type":"quantitative"},"size":{"field":"density","type":"quantitative","scale":{"domain":[0,0.19],"range":[1.2,29.6]},"legend":null}}},
{"mark":{"type":"trail","color":"#a01414"},"encoding":{"x":{"field":"t","type":"ordinal","scale":{"type":"band","domain":[0,1,2,3,4,5,6,7,8],"paddingInner":0,"paddingOuter":0.1}},"y":{"field":"value","type":"quantitative"},"order":{"field":"value","type":"quantitative"},"size":{"field":"density","type":"quantitative","scale":{"domain":[0,0.19],"range":[0,28.4]},"legend":null}}}]},
{"data":{"name":"pts"},"transform":[{"filter":"datum.s=='A'&&datum.t==7"},{"density":"v","groupby":["t"],"bandwidth":0.9,"extent":[7.3,24.3],"steps":120}],"resolve":{"scale":{"size":"independent"}},"layer":[
{"mark":{"type":"trail","color":"black"},"encoding":{"x":{"field":"t","type":"ordinal","scale":{"type":"band","domain":[0,1,2,3,4,5,6,7,8],"paddingInner":0,"paddingOuter":0.1}},"y":{"field":"value","type":"quantitative"},"order":{"field":"value","type":"quantitative"},"size":{"field":"density","type":"quantitative","scale":{"domain":[0,0.19],"range":[1.2,29.6]},"legend":null}}},
{"mark":{"type":"trail","color":"#a01414"},"encoding":{"x":{"field":"t","type":"ordinal","scale":{"type":"band","domain":[0,1,2,3,4,5,6,7,8],"paddingInner":0,"paddingOuter":0.1}},"y":{"field":"value","type":"quantitative"},"order":{"field":"value","type":"quantitative"},"size":{"field":"density","type":"quantitative","scale":{"domain":[0,0.19],"range":[0,28.4]},"legend":null}}}]},
{"data":{"name":"pts"},"transform":[{"filter":"datum.s=='A'&&datum.t==8"},{"density":"v","groupby":["t"],"bandwidth":0.9,"extent":[6.4,23.5],"steps":120}],"resolve":{"scale":{"size":"independent"}},"layer":[
{"mark":{"type":"trail","color":"black"},"encoding":{"x":{"field":"t","type":"ordinal","scale":{"type":"band","domain":[0,1,2,3,4,5,6,7,8],"paddingInner":0,"paddingOuter":0.1}},"y":{"field":"value","type":"quantitative"},"order":{"field":"value","type":"quantitative"},"size":{"field":"density","type":"quantitative","scale":{"domain":[0,0.19],"range":[1.2,29.6]},"legend":null}}},
{"mark":{"type":"trail","color":"#a01414"},"encoding":{"x":{"field":"t","type":"ordinal","scale":{"type":"band","domain":[0,1,2,3,4,5,6,7,8],"paddingInner":0,"paddingOuter":0.1}},"y":{"field":"value","type":"quantitative"},"order":{"field":"value","type":"quantitative"},"size":{"field":"density","type":"quantitative","scale":{"domain":[0,0.19],"range":[0,28.4]},"legend":null}}}]},
{"data":{"name":"pts"},"transform":[{"filter":"datum.s=='A'"},{"window":[{"op":"row_number","as":"r"}],"groupby":["t"],"sort":[{"field":"v"}]}],
"mark":{"type":"circle","size":13,"fill":"white","fillOpacity":0.5,"stroke":"#999999","strokeWidth":0.7,"opacity":1},
"encoding":{"x":{"field":"t","type":"ordinal","scale":{"type":"band","domain":[0,1,2,3,4,5,6,7,8],"paddingInner":0,"paddingOuter":0.1},"axis":{"title":null,"labelAngle":0,"bandPosition":0.5,"tickBand":"center","labelAlign":"center","labelPadding":3}},
"xOffset":{"field":"r","type":"nominal","scale":{"domain":[23,7,41,15,32,2,48,19,36,11,27,44,5,30,17,39,9,46,21,13,34,1,26,42,8,49,16,37,4,29,45,12,24,38,3,20,47,10,33,18,50,6,28,40,14,35,22,43,31,25],"range":[4.76,26.76]}},
"y":{"field":"v","type":"quantitative","scale":{"domain":[-4.5,28.5],"nice":false,"zero":false},"axis":{"values":[-3,2,7,12,17,22,27],"tickCount":10,"labelOverlap":false,"titlePadding":2,"title":"Median Tₛₑₗ (°C)"}}}},
{"data":{"name":"pts"},"transform":[{"filter":"datum.s=='A'"},{"aggregate":[{"op":"q1","field":"v","as":"q1"},{"op":"q3","field":"v","as":"q3"},{"op":"median","field":"v","as":"med"}],"groupby":["t"]}],
"layer":[
{"mark":{"type":"bar","size":5,"fill":"white","stroke":"black","strokeWidth":0.6},"encoding":{"x":{"field":"t","type":"ordinal","scale":{"type":"band","domain":[0,1,2,3,4,5,6,7,8],"paddingInner":0,"paddingOuter":0.1}},"y":{"field":"q1","type":"quantitative"},"y2":{"field":"q3"}}},
{"mark":{"type":"tick","orient":"horizontal","size":5,"thickness":1,"color":"black"},"encoding":{"x":{"field":"t","type":"ordinal","scale":{"type":"band","domain":[0,1,2,3,4,5,6,7,8],"paddingInner":0,"paddingOuter":0.1}},"y":{"field":"med","type":"quantitative"}}}
]},
{"data":{"name":"fit"},"transform":[{"filter":"datum.s=='A'"}],"mark":{"type":"line","color":"black","strokeWidth":1},"encoding":{"x":{"field":"t","type":"ordinal","scale":{"type":"band","domain":[0,1,2,3,4,5,6,7,8],"paddingInner":0,"paddingOuter":0.1}},"y":{"field":"f","type":"quantitative"}}}
]
},
{
"title":{"text":"Overwintering","offset":2},
"width":290,"height":212,
"resolve":{"scale":{"size":"independent"}},
"layer":[
{"data":{"name":"ref"},"transform":[{"filter":"datum.s=='O'"}],"mark":{"type":"rule","color":"#c4c4c4","strokeDash":[4,3],"strokeWidth":1},"encoding":{"y":{"field":"ref","type":"quantitative","scale":{"domain":[-4.5,28.5],"nice":false,"zero":false}}}},
{"data":{"name":"pts"},"transform":[{"filter":"datum.s=='O'&&datum.t==0"},{"density":"v","groupby":["t"],"bandwidth":0.5,"extent":[-2.2,9.4],"steps":120}],"resolve":{"scale":{"size":"independent"}},"layer":[
{"mark":{"type":"trail","color":"black"},"encoding":{"x":{"field":"t","type":"ordinal","scale":{"type":"band","domain":[0,1,2,3,4,5,6,7,8],"paddingInner":0,"paddingOuter":0.1}},"y":{"field":"value","type":"quantitative"},"order":{"field":"value","type":"quantitative"},"size":{"field":"density","type":"quantitative","scale":{"domain":[0,0.34],"range":[1.2,29.6]},"legend":null}}},
{"mark":{"type":"trail","color":"#1c1c9a"},"encoding":{"x":{"field":"t","type":"ordinal","scale":{"type":"band","domain":[0,1,2,3,4,5,6,7,8],"paddingInner":0,"paddingOuter":0.1}},"y":{"field":"value","type":"quantitative"},"order":{"field":"value","type":"quantitative"},"size":{"field":"density","type":"quantitative","scale":{"domain":[0,0.34],"range":[0,28.4]},"legend":null}}}]},
{"data":{"name":"pts"},"transform":[{"filter":"datum.s=='O'&&datum.t==1"},{"density":"v","groupby":["t"],"bandwidth":0.95,"extent":[-1.9,17.0],"steps":120}],"resolve":{"scale":{"size":"independent"}},"layer":[
{"mark":{"type":"trail","color":"black"},"encoding":{"x":{"field":"t","type":"ordinal","scale":{"type":"band","domain":[0,1,2,3,4,5,6,7,8],"paddingInner":0,"paddingOuter":0.1}},"y":{"field":"value","type":"quantitative"},"order":{"field":"value","type":"quantitative"},"size":{"field":"density","type":"quantitative","scale":{"domain":[0,0.34],"range":[1.2,29.6]},"legend":null}}},
{"mark":{"type":"trail","color":"#1c1c9a"},"encoding":{"x":{"field":"t","type":"ordinal","scale":{"type":"band","domain":[0,1,2,3,4,5,6,7,8],"paddingInner":0,"paddingOuter":0.1}},"y":{"field":"value","type":"quantitative"},"order":{"field":"value","type":"quantitative"},"size":{"field":"density","type":"quantitative","scale":{"domain":[0,0.34],"range":[0,28.4]},"legend":null}}}]},
{"data":{"name":"pts"},"transform":[{"filter":"datum.s=='O'&&datum.t==2"},{"density":"v","groupby":["t"],"bandwidth":0.95,"extent":[-2.7,16.3],"steps":120}],"resolve":{"scale":{"size":"independent"}},"layer":[
{"mark":{"type":"trail","color":"black"},"encoding":{"x":{"field":"t","type":"ordinal","scale":{"type":"band","domain":[0,1,2,3,4,5,6,7,8],"paddingInner":0,"paddingOuter":0.1}},"y":{"field":"value","type":"quantitative"},"order":{"field":"value","type":"quantitative"},"size":{"field":"density","type":"quantitative","scale":{"domain":[0,0.34],"range":[1.2,29.6]},"legend":null}}},
{"mark":{"type":"trail","color":"#1c1c9a"},"encoding":{"x":{"field":"t","type":"ordinal","scale":{"type":"band","domain":[0,1,2,3,4,5,6,7,8],"paddingInner":0,"paddingOuter":0.1}},"y":{"field":"value","type":"quantitative"},"order":{"field":"value","type":"quantitative"},"size":{"field":"density","type":"quantitative","scale":{"domain":[0,0.34],"range":[0,28.4]},"legend":null}}}]},
{"data":{"name":"pts"},"transform":[{"filter":"datum.s=='O'&&datum.t==3"},{"density":"v","groupby":["t"],"bandwidth":0.95,"extent":[-1.0,16.3],"steps":120}],"resolve":{"scale":{"size":"independent"}},"layer":[
{"mark":{"type":"trail","color":"black"},"encoding":{"x":{"field":"t","type":"ordinal","scale":{"type":"band","domain":[0,1,2,3,4,5,6,7,8],"paddingInner":0,"paddingOuter":0.1}},"y":{"field":"value","type":"quantitative"},"order":{"field":"value","type":"quantitative"},"size":{"field":"density","type":"quantitative","scale":{"domain":[0,0.34],"range":[1.2,29.6]},"legend":null}}},
{"mark":{"type":"trail","color":"#1c1c9a"},"encoding":{"x":{"field":"t","type":"ordinal","scale":{"type":"band","domain":[0,1,2,3,4,5,6,7,8],"paddingInner":0,"paddingOuter":0.1}},"y":{"field":"value","type":"quantitative"},"order":{"field":"value","type":"quantitative"},"size":{"field":"density","type":"quantitative","scale":{"domain":[0,0.34],"range":[0,28.4]},"legend":null}}}]},
{"data":{"name":"pts"},"transform":[{"filter":"datum.s=='O'&&datum.t==4"},{"density":"v","groupby":["t"],"bandwidth":0.95,"extent":[-0.9,17.2],"steps":120}],"resolve":{"scale":{"size":"independent"}},"layer":[
{"mark":{"type":"trail","color":"black"},"encoding":{"x":{"field":"t","type":"ordinal","scale":{"type":"band","domain":[0,1,2,3,4,5,6,7,8],"paddingInner":0,"paddingOuter":0.1}},"y":{"field":"value","type":"quantitative"},"order":{"field":"value","type":"quantitative"},"size":{"field":"density","type":"quantitative","scale":{"domain":[0,0.34],"range":[1.2,29.6]},"legend":null}}},
{"mark":{"type":"trail","color":"#1c1c9a"},"encoding":{"x":{"field":"t","type":"ordinal","scale":{"type":"band","domain":[0,1,2,3,4,5,6,7,8],"paddingInner":0,"paddingOuter":0.1}},"y":{"field":"value","type":"quantitative"},"order":{"field":"value","type":"quantitative"},"size":{"field":"density","type":"quantitative","scale":{"domain":[0,0.34],"range":[0,28.4]},"legend":null}}}]},
{"data":{"name":"pts"},"transform":[{"filter":"datum.s=='O'&&datum.t==5"},{"density":"v","groupby":["t"],"bandwidth":0.95,"extent":[-0.1,16.3],"steps":120}],"resolve":{"scale":{"size":"independent"}},"layer":[
{"mark":{"type":"trail","color":"black"},"encoding":{"x":{"field":"t","type":"ordinal","scale":{"type":"band","domain":[0,1,2,3,4,5,6,7,8],"paddingInner":0,"paddingOuter":0.1}},"y":{"field":"value","type":"quantitative"},"order":{"field":"value","type":"quantitative"},"size":{"field":"density","type":"quantitative","scale":{"domain":[0,0.34],"range":[1.2,29.6]},"legend":null}}},
{"mark":{"type":"trail","color":"#1c1c9a"},"encoding":{"x":{"field":"t","type":"ordinal","scale":{"type":"band","domain":[0,1,2,3,4,5,6,7,8],"paddingInner":0,"paddingOuter":0.1}},"y":{"field":"value","type":"quantitative"},"order":{"field":"value","type":"quantitative"},"size":{"field":"density","type":"quantitative","scale":{"domain":[0,0.34],"range":[0,28.4]},"legend":null}}}]},
{"data":{"name":"pts"},"transform":[{"filter":"datum.s=='O'&&datum.t==6"},{"density":"v","groupby":["t"],"bandwidth":0.95,"extent":[0.9,16.4],"steps":120}],"resolve":{"scale":{"size":"independent"}},"layer":[
{"mark":{"type":"trail","color":"black"},"encoding":{"x":{"field":"t","type":"ordinal","scale":{"type":"band","domain":[0,1,2,3,4,5,6,7,8],"paddingInner":0,"paddingOuter":0.1}},"y":{"field":"value","type":"quantitative"},"order":{"field":"value","type":"quantitative"},"size":{"field":"density","type":"quantitative","scale":{"domain":[0,0.34],"range":[1.2,29.6]},"legend":null}}},
{"mark":{"type":"trail","color":"#1c1c9a"},"encoding":{"x":{"field":"t","type":"ordinal","scale":{"type":"band","domain":[0,1,2,3,4,5,6,7,8],"paddingInner":0,"paddingOuter":0.1}},"y":{"field":"value","type":"quantitative"},"order":{"field":"value","type":"quantitative"},"size":{"field":"density","type":"quantitative","scale":{"domain":[0,0.34],"range":[0,28.4]},"legend":null}}}]},
{"data":{"name":"pts"},"transform":[{"filter":"datum.s=='O'&&datum.t==7"},{"density":"v","groupby":["t"],"bandwidth":0.95,"extent":[0.3,16.6],"steps":120}],"resolve":{"scale":{"size":"independent"}},"layer":[
{"mark":{"type":"trail","color":"black"},"encoding":{"x":{"field":"t","type":"ordinal","scale":{"type":"band","domain":[0,1,2,3,4,5,6,7,8],"paddingInner":0,"paddingOuter":0.1}},"y":{"field":"value","type":"quantitative"},"order":{"field":"value","type":"quantitative"},"size":{"field":"density","type":"quantitative","scale":{"domain":[0,0.34],"range":[1.2,29.6]},"legend":null}}},
{"mark":{"type":"trail","color":"#1c1c9a"},"encoding":{"x":{"field":"t","type":"ordinal","scale":{"type":"band","domain":[0,1,2,3,4,5,6,7,8],"paddingInner":0,"paddingOuter":0.1}},"y":{"field":"value","type":"quantitative"},"order":{"field":"value","type":"quantitative"},"size":{"field":"density","type":"quantitative","scale":{"domain":[0,0.34],"range":[0,28.4]},"legend":null}}}]},
{"data":{"name":"pts"},"transform":[{"filter":"datum.s=='O'&&datum.t==8"},{"density":"v","groupby":["t"],"bandwidth":0.95,"extent":[0.0,15.1],"steps":120}],"resolve":{"scale":{"size":"independent"}},"layer":[
{"mark":{"type":"trail","color":"black"},"encoding":{"x":{"field":"t","type":"ordinal","scale":{"type":"band","domain":[0,1,2,3,4,5,6,7,8],"paddingInner":0,"paddingOuter":0.1}},"y":{"field":"value","type":"quantitative"},"order":{"field":"value","type":"quantitative"},"size":{"field":"density","type":"quantitative","scale":{"domain":[0,0.34],"range":[1.2,29.6]},"legend":null}}},
{"mark":{"type":"trail","color":"#1c1c9a"},"encoding":{"x":{"field":"t","type":"ordinal","scale":{"type":"band","domain":[0,1,2,3,4,5,6,7,8],"paddingInner":0,"paddingOuter":0.1}},"y":{"field":"value","type":"quantitative"},"order":{"field":"value","type":"quantitative"},"size":{"field":"density","type":"quantitative","scale":{"domain":[0,0.34],"range":[0,28.4]},"legend":null}}}]},
{"data":{"name":"pts"},"transform":[{"filter":"datum.s=='O'"},{"window":[{"op":"row_number","as":"r"}],"groupby":["t"],"sort":[{"field":"v"}]}],
"mark":{"type":"circle","size":13,"fill":"white","fillOpacity":0.5,"stroke":"#999999","strokeWidth":0.7,"opacity":1},
"encoding":{"x":{"field":"t","type":"ordinal","scale":{"type":"band","domain":[0,1,2,3,4,5,6,7,8],"paddingInner":0,"paddingOuter":0.1},"axis":{"title":null,"labelAngle":0,"bandPosition":0.5,"tickBand":"center","labelAlign":"center","labelPadding":3}},
"xOffset":{"field":"r","type":"nominal","scale":{"domain":[23,7,41,15,32,2,48,19,36,11,27,44,5,30,17,39,9,46,21,13,34,1,26,42,8,49,16,37,4,29,45,12,24,38,3,20,47,10,33,18,50,6,28,40,14,35,22,43,31,25],"range":[4.76,26.76]}},
"y":{"field":"v","type":"quantitative","scale":{"domain":[-4.5,28.5],"nice":false,"zero":false},"axis":{"values":[-3,2,7,12,17,22,27],"tickCount":10,"labelOverlap":false,"title":null}}}},
{"data":{"name":"pts"},"transform":[{"filter":"datum.s=='O'"},{"aggregate":[{"op":"q1","field":"v","as":"q1"},{"op":"q3","field":"v","as":"q3"},{"op":"median","field":"v","as":"med"}],"groupby":["t"]}],
"layer":[
{"mark":{"type":"bar","size":5,"fill":"white","stroke":"black","strokeWidth":0.6},"encoding":{"x":{"field":"t","type":"ordinal","scale":{"type":"band","domain":[0,1,2,3,4,5,6,7,8],"paddingInner":0,"paddingOuter":0.1}},"y":{"field":"q1","type":"quantitative"},"y2":{"field":"q3"}}},
{"mark":{"type":"tick","orient":"horizontal","size":5,"thickness":1,"color":"black"},"encoding":{"x":{"field":"t","type":"ordinal","scale":{"type":"band","domain":[0,1,2,3,4,5,6,7,8],"paddingInner":0,"paddingOuter":0.1}},"y":{"field":"med","type":"quantitative"}}}
]},
{"data":{"name":"fit"},"transform":[{"filter":"datum.s=='O'"}],"mark":{"type":"line","color":"black","strokeWidth":1},"encoding":{"x":{"field":"t","type":"ordinal","scale":{"type":"band","domain":[0,1,2,3,4,5,6,7,8],"paddingInner":0,"paddingOuter":0.1}},"y":{"field":"f","type":"quantitative"}}}
]
}
],
"config":{
"font":"Liberation Serif",
"view":{"stroke":null},
"axis":{"domainColor":"#8a8a8a","tickColor":"#8a8a8a","labelColor":"#4d4d4d","labelFontSize":12,"titleFontSize":12,"titleFontWeight":"normal","titleColor":"black","grid":false,"tickSize":3,"labelPadding":2,"titlePadding":4,"labelFont":"Liberation Serif","titleFont":"Liberation Serif"},
"title":{"fontSize":12,"fontWeight":"normal","font":"Liberation Serif","color":"black"}
}
}
